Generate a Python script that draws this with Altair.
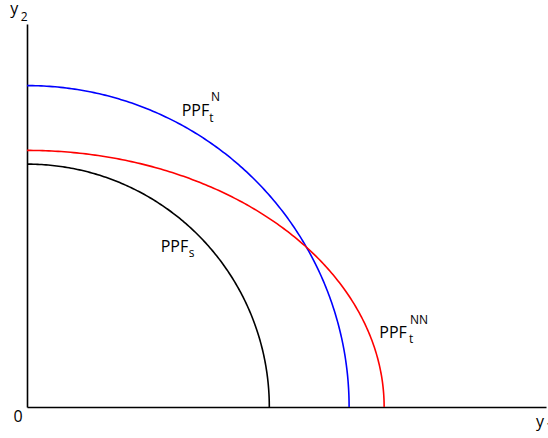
import numpy as np
import pandas as pd
import altair as alt

# Production possibility frontiers: horizontal (y1) and vertical (y2) intercepts
curve_names = ["PPF_s", "PPF_t^N", "PPF_t^NN"]
x_intercepts = [7.47, 9.93, 11.01]
y_intercepts = [7.61, 10.07, 8.04]
curve_colors = ["#000000", "#0000ff", "#ff0000"]

# Label pieces (main text, subscripts, superscripts) in data coordinates
label_text = ["PPF", "s", "PPF", "t", "N", "PPF", "t", "NN", "y", "2", "0", "y", "1"]
label_x = [4.12, 4.99, 4.77, 5.62, 5.67, 10.86, 11.78, 11.81, -0.52, -0.19, -0.42, 15.69, 16.0]
label_y = [4.87, 4.69, 9.13, 8.93, 9.58, 2.15, 1.99, 2.59, 12.31, 12.09, -0.46, -0.64, -0.75]
label_size = [16, 12, 16, 12, 12, 16, 12, 12, 16, 12, 16, 16, 12]

rows = []
angles = np.linspace(0, np.pi / 2, 181)
for name, a, b in zip(curve_names, x_intercepts, y_intercepts):
    for i, th in enumerate(angles):
        rows.append({"curve": name, "order": i,
                     "x": a * np.cos(th), "y": b * np.sin(th)})
curves = pd.DataFrame(rows)

labels = pd.DataFrame({"text": label_text, "x": label_x,
                       "y": label_y, "size": label_size})

x_scale = alt.Scale(domain=[0, 16], nice=False, zero=False)
y_scale = alt.Scale(domain=[0, 12], nice=False, zero=False)
axis_style = dict(domain=True, domainColor="black", domainWidth=1.6,
                  ticks=False, labels=False, grid=False, title=None)

lines = alt.Chart(curves).mark_line(strokeWidth=1.6, clip=True).encode(
    x=alt.X("x:Q", scale=x_scale, axis=alt.Axis(**axis_style)),
    y=alt.Y("y:Q", scale=y_scale, axis=alt.Axis(**axis_style)),
    color=alt.Color("curve:N",
                    scale=alt.Scale(domain=curve_names, range=curve_colors),
                    legend=None),
    detail="curve:N",
    order="order:Q",
)

text = alt.Chart(labels).mark_text(
    align="left", baseline="alphabetic", font="Open Sans", color="black"
).encode(
    x=alt.X("x:Q", scale=x_scale),
    y=alt.Y("y:Q", scale=y_scale),
    text="text:N",
    size=alt.Size("size:Q", scale=None, legend=None),
)

chart = (lines + text).properties(
    width=519,
    height=383,
    autosize=alt.AutoSizeParams(type="none"),
    padding={"left": 27, "top": 24, "right": 2, "bottom": 31},
    background="white",
).configure_view(stroke=None)

chart.save("out.html", embed_options={"renderer": "svg", "actions": False})
